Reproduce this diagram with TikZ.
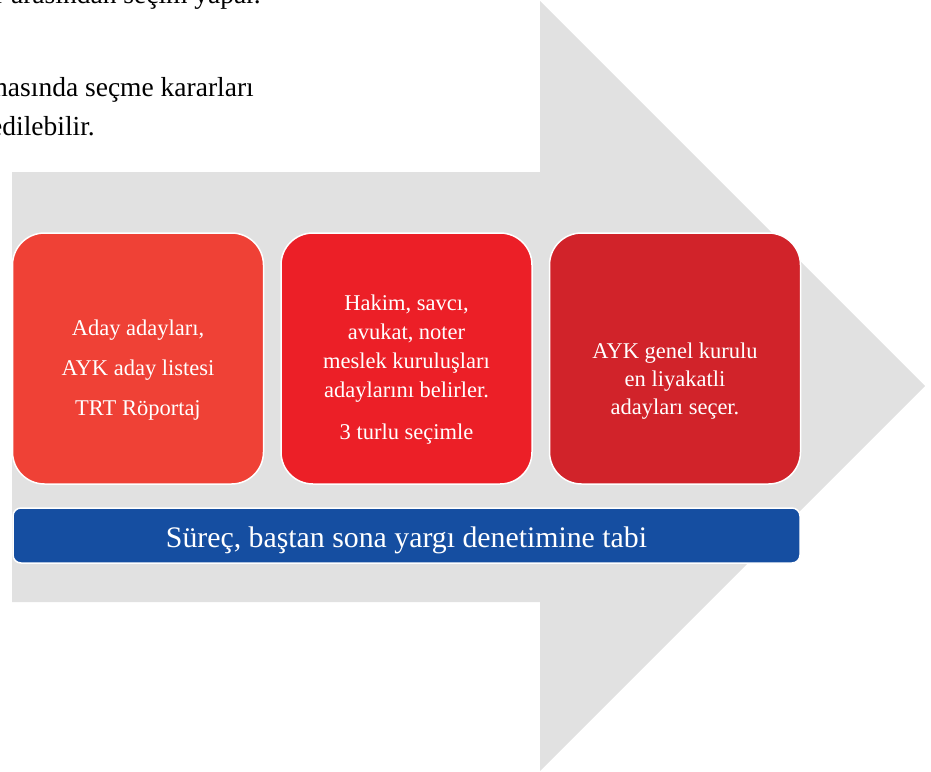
\documentclass[tikz,border=0pt]{standalone}
\usepackage{fontspec}
\setmainfont{Liberation Serif}
\usetikzlibrary{positioning}
\definecolor{arrowgray}{HTML}{E1E1E1}
\definecolor{cardone}{HTML}{EF4136}
\definecolor{cardtwo}{HTML}{EC1F27}
\definecolor{cardthree}{HTML}{D1232A}
\definecolor{barblue}{HTML}{154EA1}

\begin{document}
\begin{tikzpicture}[
    x=1pt, y=-1pt,
    card/.style={rounded corners=32pt, draw=white, line width=1.5pt, minimum width=251pt, minimum height=251pt, inner sep=0pt},
    cardtext/.style={text=white, align=center, inner sep=0pt, font=\fontsize{22.5}{29}\selectfont},
    bar/.style={rounded corners=8pt, draw=white, line width=1.5pt, fill=barblue, minimum width=787pt, minimum height=55pt, inner sep=0pt},
    pagetext/.style={anchor=base east, inner sep=0pt, font=\fontsize{27.5}{33}\selectfont}
  ]
  \useasboundingbox (0,0) rectangle (931,771);
  \clip (0,0) rectangle (931,771);
  % grey arrow behind everything
  \fill[arrowgray] (12,172) -- (540,172) -- (540,1) -- (925,386) -- (540,771) -- (540,602) -- (12,602) -- cycle;
  % page text, cut by the margin
  \node[pagetext] (prev) at (261,4) {adaylar arasından seçim yapar.};
  \node[pagetext] (karar) at (254,96) {aşamasında seçme kararları};
  \node[pagetext] (itiraz) at (95,135) {edilebilir.};
  % the three steps
  \node[card, fill=cardone] (aday) at (138,358.5) {};
  \node[card, fill=cardtwo, right=16pt of aday] (meslek) {};
  \node[card, fill=cardthree, right=16pt of meslek] (genel) {};
  \node[cardtext] (adaytxt) at ([yshift=-11.3pt]aday.center) {Aday adayları,\\[11pt]AYK aday listesi\\[11pt]TRT Röportaj};
  \node[cardtext] (meslektxt) at ([yshift=-11.4pt]meslek.center) {Hakim, savcı,\\avukat, noter\\meslek kuruluşları\\adaylarını belirler.\\[13pt]3 turlu seçimle};
  \node[cardtext, font=\fontsize{22.5}{28}\selectfont] (geneltxt) at ([yshift=-22.2pt]genel.center) {AYK genel kurulu\\en liyakatli\\adayları seçer.};
  % judicial review bar
  \node[bar, below=22.5pt of meslek] (yargi) {};
  \node[text=white, inner sep=0pt, font=\fontsize{29.8}{35}\selectfont] (yargitxt) at ([yshift=-4.8pt]yargi.center) {Süreç, baştan sona yargı denetimine tabi};
\end{tikzpicture}
\end{document}
